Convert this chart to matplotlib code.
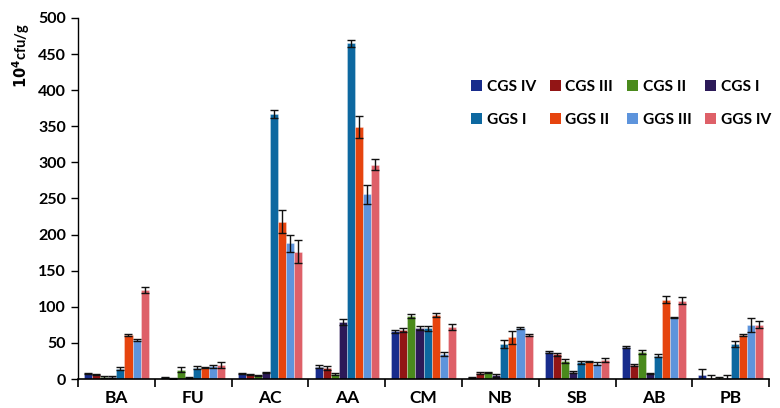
import matplotlib
matplotlib.use("Agg")
import matplotlib.pyplot as plt
import numpy as np

categories = ["BA", "FU", "AC", "AA", "CM", "NB", "SB", "AB", "PB"]
series = ["CGS IV", "CGS III", "CGS II", "CGS I", "GGS I", "GGS II", "GGS III", "GGS IV"]

cgs4 = [7.3, 2.3, 7.4, 17, 66, 2.3, 37.4, 44.8, 5.8]
cgs3 = [6.5, 0.5, 6.5, 15.7, 68, 8.3, 34, 19.4, 2]
cgs2 = [3, 13, 5, 7, 87.7, 9.2, 25, 37.8, 1]
cgs1 = [3, 2, 8.8, 79.4, 71, 5, 9.7, 7.4, 2]
ggs1 = [14, 15.7, 367, 465, 70, 48.5, 23.5, 32.3, 48]
ggs2 = [61, 16, 218, 349, 89, 57.7, 24.5, 110, 61]
ggs3 = [54.5, 17.5, 188, 256, 34.6, 70.6, 21.2, 85.4, 75]
ggs4 = [123, 19, 176, 297, 72.5, 61, 26.8, 108.5, 75]

err_cgs4 = [1, 0.5, 1, 2, 2, 0.5, 1, 1.5, 8]
err_cgs3 = [1, 0.3, 1, 3, 3, 1, 2, 2, 3]
err_cgs2 = [1, 3, 0.5, 2, 3, 1, 3, 3, 2]
err_cgs1 = [1, 0.5, 0.5, 4, 3, 1.5, 2, 1, 3]
err_ggs1 = [2, 2.5, 5, 5, 3, 6, 2, 2, 4]
err_ggs2 = [2, 1, 16, 15, 3, 9, 1, 5, 2]
err_ggs3 = [1.5, 2.5, 12, 13, 3, 2, 2, 1, 10]
err_ggs4 = [4, 4, 16, 8, 4, 2, 3, 5, 5]

values = [cgs4, cgs3, cgs2, cgs1, ggs1, ggs2, ggs3, ggs4]
errors = [err_cgs4, err_cgs3, err_cgs2, err_cgs1, err_ggs1, err_ggs2, err_ggs3, err_ggs4]
colors = ["#182c8c", "#921515", "#4a8a1c", "#2c1a58", "#0d68a0", "#e6440e", "#5d94dc", "#de6068"]

plt.rcParams['font.family'] = ['Lato', 'DejaVu Sans']

fig = plt.figure(figsize=(7.8, 4.08), dpi=100)
ax = fig.add_axes([0.1, 0.071, 0.886, 0.885])

x = np.arange(len(categories))
w = 0.105
n = len(series)
handles = []
for i, (vals, errs, col, name) in enumerate(zip(values, errors, colors, series)):
    off = (i - (n - 1) / 2) * w
    b = ax.bar(x + off, vals, w, color=col, edgecolor=(1, 1, 1, 0.35), linewidth=0.6,
               yerr=errs, error_kw=dict(ecolor="#111111", elinewidth=1.0, capsize=2.8, capthick=1.0),
               label=name, zorder=2)
    handles.append(b)

ax.set_xlim(-0.5, len(categories) - 0.5)
ax.set_ylim(0, 500)
ax.set_yticks(np.arange(0, 501, 50))
ax.set_xticks(x)
ax.set_xticklabels(categories, fontsize=12.5, fontweight="bold")
ax.set_xticks(np.arange(-0.5, len(categories), 1), minor=True)
ax.tick_params(axis="x", which="major", length=0, pad=8)
ax.tick_params(axis="x", which="minor", length=6, width=1.2, direction="out")
ax.tick_params(axis="y", length=5, width=1.0, direction="out", labelsize=11.5)
for lab in ax.get_yticklabels():
    lab.set_fontweight("bold")
ax.spines["top"].set_visible(False)
ax.spines["right"].set_visible(False)
ax.spines["left"].set_linewidth(1.0)
ax.spines["bottom"].set_linewidth(1.2)

ax.set_ylabel(r"$\mathbf{10^{4}}$cfu/g", fontsize=10.5, fontweight="bold", loc="top")
ax.yaxis.set_label_coords(-0.066, 0.985)

order = [0, 4, 1, 5, 2, 6, 3, 7]
leg = ax.legend([handles[k] for k in order], [series[k] for k in order], ncol=4,
                loc="upper left", bbox_to_anchor=(0.553, 0.858), frameon=False,
                prop=dict(weight="bold", size=11.2), handlelength=0.7, handleheight=0.7,
                handletextpad=0.3, columnspacing=0.9, labelspacing=1.2, borderaxespad=0.3)
for h in leg.legend_handles:
    h.set_edgecolor("none")

fig.savefig("out.png", dpi=100)
